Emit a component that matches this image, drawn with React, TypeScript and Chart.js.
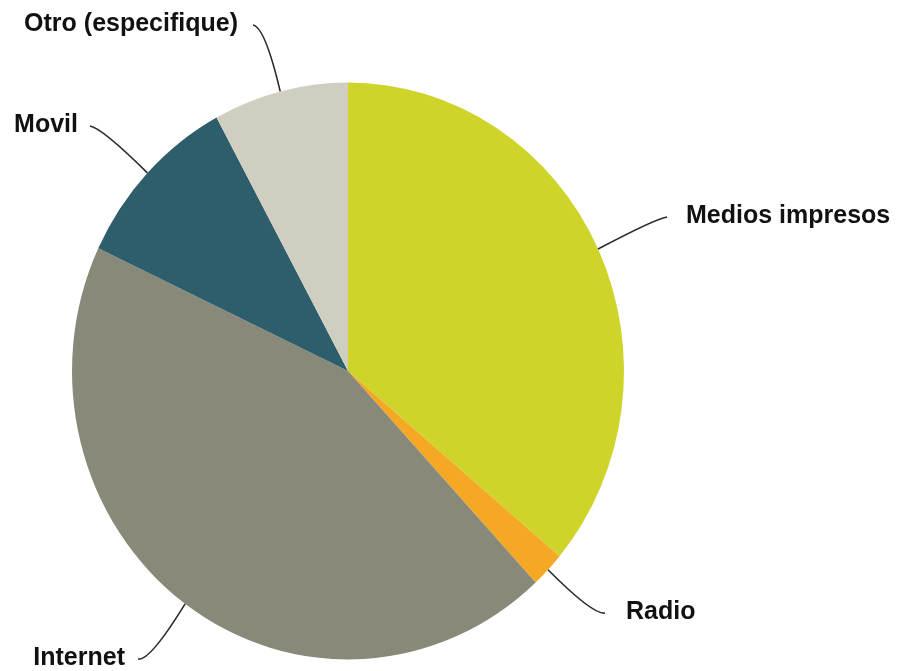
import React, { useEffect, useRef } from "react";
import { Chart, registerables } from "chart.js";

Chart.register(...registerables);

const categories = ["Medios impresos", "Radio", "Internet", "Movil", "Otro (especifique)"];
const values = [36.1, 2.0, 43.9, 10.1, 7.9];
const colors = ["#CED42A", "#F5A823", "#89897A", "#2E5E6B", "#D0CEC0"];

// label layout (canvas px): text anchor, alignment, leader end offset
const labelLayout = [
  { x: 678, y: 208, align: "left", gap: 19 },
  { x: 618, y: 604, align: "left", gap: 21 },
  { x: 117, y: 650, align: "right", gap: 13 },
  { x: 70, y: 117, align: "right", gap: 12 },
  { x: 230, y: 16, align: "right", gap: 15 },
];
const ELLIPSE_Y = 1.045;

const ellipsePlugin = {
  id: "ellipse",
  beforeDatasetsDraw(chart: any) {
    const arc = chart.getDatasetMeta(0).data[0];
    if (!arc) return;
    const ctx = chart.ctx;
    ctx.save();
    ctx.translate(arc.x, arc.y);
    ctx.scale(1, ELLIPSE_Y);
    ctx.translate(-arc.x, -arc.y);
  },
  afterDatasetsDraw(chart: any) {
    chart.ctx.restore();
  },
};

const labelPlugin = {
  id: "leaderLabels",
  afterDraw(chart: any) {
    const ctx = chart.ctx;
    const meta = chart.getDatasetMeta(0);
    ctx.save();
    ctx.font = "bold 25px 'Liberation Sans', Arial, sans-serif";
    ctx.textBaseline = "middle";
    meta.data.forEach((arc: any, i: number) => {
      const L = labelLayout[i];
      const mid = (arc.startAngle + arc.endAngle) / 2;
      const ax = arc.x + Math.cos(mid) * arc.outerRadius;
      const ay = arc.y + Math.sin(mid) * arc.outerRadius * ELLIPSE_Y;
      const dir = L.align === "left" ? -1 : 1;
      const ex = L.x + dir * L.gap;
      const ey = L.y + 1;
      const cx = ex + dir * 12;
      const cy = ey + 2;
      ctx.strokeStyle = "#2a2a2a";
      ctx.lineWidth = 1.6;
      ctx.beginPath();
      ctx.moveTo(ax, ay);
      ctx.quadraticCurveTo(cx, cy, ex, ey);
      ctx.stroke();
      ctx.fillStyle = "#111111";
      ctx.textAlign = L.align;
      ctx.fillText(categories[i], L.x, L.y);
    });
    ctx.restore();
  },
};

export default function App() {
  const ref = useRef<HTMLCanvasElement>(null);
  useEffect(() => {
    if (!ref.current) return;
    const chart = new Chart(ref.current, {
      type: "pie",
      data: {
        labels: categories,
        datasets: [
          {
            data: values,
            backgroundColor: colors,
            borderWidth: 0,
            hoverBorderWidth: 0,
            hoverOffset: 0,
          },
        ],
      },
      options: {
        responsive: false,
        animation: false,
        layout: { padding: { left: 64, right: 271, top: 87, bottom: 24 } },
        plugins: {
          legend: { display: false },
          tooltip: { enabled: false },
        },
      },
      plugins: [ellipsePlugin, labelPlugin],
    });
    return () => chart.destroy();
  }, []);
  return (
    <canvas ref={ref} width={887} height={663} style={{ display: "block" }} />
  );
}
